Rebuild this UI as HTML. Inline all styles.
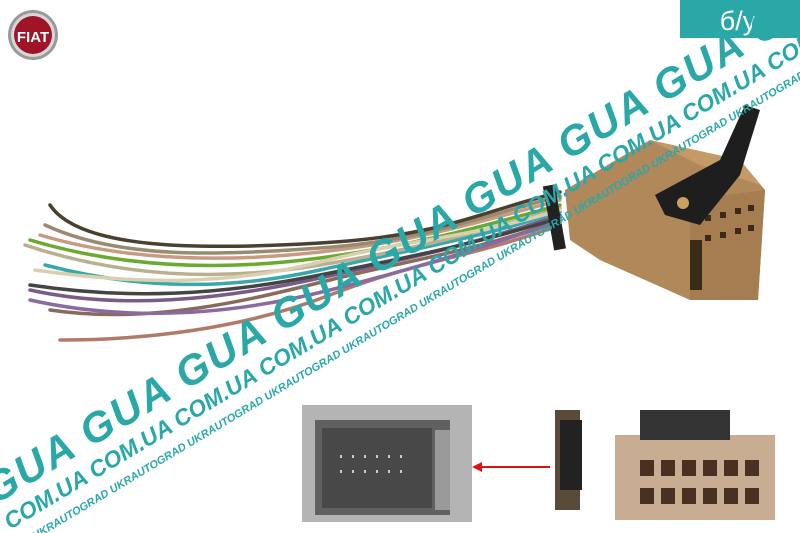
<!DOCTYPE html>
<html><head><meta charset="utf-8"><style>
html,body{margin:0;padding:0;background:#fff;width:800px;height:533px;overflow:hidden}
svg{display:block}
</style></head><body>
<svg width="800" height="533" viewBox="0 0 800 533" xmlns="http://www.w3.org/2000/svg" font-family="Liberation Sans, sans-serif">
<!-- Fiat logo -->
<circle cx="33" cy="35" r="25" fill="#9a9a9a"/>
<circle cx="33" cy="35" r="22" fill="#d8d8d8"/>
<circle cx="33" cy="35" r="19" fill="#a01428"/>
<text x="33" y="42" font-size="15" fill="#fff" text-anchor="middle" font-weight="bold" transform="scale(1,1)">FIAT</text>
<!-- badge -->
<rect x="680" y="0" width="120" height="38" fill="#2aa8a8"/>
<text x="738" y="30" font-size="27" fill="#fff" text-anchor="middle">б/у</text>
<!-- wires -->
<g fill="none" stroke-width="3.5" stroke-linecap="round">
<path d="M50 310 C150 325 250 300 330 280 S480 250 560 220" stroke="#8a6a5a"/>
<path d="M30 290 C120 310 220 300 320 278 S470 245 560 215" stroke="#7a5a8a"/>
<path d="M45 265 C140 290 230 290 320 270 S470 240 560 212" stroke="#3aa8a8"/>
<path d="M25 245 C130 280 230 280 320 265 S470 235 560 208" stroke="#b8b090"/>
<path d="M30 240 C130 270 230 270 320 258 S470 230 560 205" stroke="#6aaa30"/>
<path d="M40 235 C130 262 230 262 320 252 S470 225 560 200" stroke="#c89a80"/>
<path d="M35 270 C140 285 230 285 320 262 S470 238 560 210" stroke="#d8d0b0"/>
<path d="M45 225 C120 260 220 255 320 248 S470 220 560 196" stroke="#9a8a70"/>
<path d="M50 205 C80 250 200 250 320 243 S470 215 560 192" stroke="#4a4030"/>
<path d="M30 285 C130 300 220 295 320 275 S470 245 560 218" stroke="#444"/>
<path d="M60 340 C140 340 240 330 330 295 S480 255 560 225" stroke="#b07a6a"/>
<path d="M30 300 C120 320 220 318 330 290 S470 250 560 222" stroke="#8a6aa0"/>
</g>
<rect x="548" y="185" width="12" height="65" fill="#222" transform="rotate(-10 554 215)"/>
<!-- connector -->
<polygon points="565,190 650,140 740,160 765,190 758,300 690,300 600,260 570,240" fill="#b0885a"/>
<polygon points="650,140 700,165 760,185 740,160" fill="#c49a68"/>
<polygon points="690,200 765,190 758,300 690,300" fill="#a57d50"/>
<g fill="#3a2a1a">
<rect x="705" y="215" width="6" height="6"/><rect x="720" y="212" width="6" height="6"/><rect x="735" y="208" width="6" height="6"/><rect x="748" y="205" width="6" height="6"/>
<rect x="705" y="235" width="6" height="6"/><rect x="720" y="232" width="6" height="6"/><rect x="735" y="228" width="6" height="6"/><rect x="748" y="225" width="6" height="6"/>
<rect x="690" y="240" width="12" height="50"/>
</g>
<polygon points="655,195 720,160 745,105 760,110 740,175 700,225 665,215" fill="#1e1e1e"/>
<circle cx="683" cy="203" r="6" fill="#c8a060"/>
<!-- watermark -->
<g fill="#2aa8a8" font-weight="bold" font-style="italic">
<text transform="translate(-5,505) rotate(-31)" font-size="42" letter-spacing="2">GUA GUA GUA GUA GUA GUA GUA GUA GUA GUA GUA</text>
<text transform="translate(10,530) rotate(-31)" font-size="23">COM.UA COM.UA COM.UA COM.UA COM.UA COM.UA COM.UA COM.UA COM.UA COM.UA</text>
<text transform="translate(35,540) rotate(-31)" font-size="11">UKRAUTOGRAD UKRAUTOGRAD UKRAUTOGRAD UKRAUTOGRAD UKRAUTOGRAD UKRAUTOGRAD UKRAUTOGRAD UKRAUTOGRAD UKRAUTOGRAD UKRAUTOGRAD</text>
</g>
<!-- bottom gray image -->
<rect x="302" y="405" width="170" height="117" fill="#b4b4b4"/>
<rect x="315" y="420" width="135" height="95" fill="#606060"/>
<rect x="322" y="428" width="110" height="80" fill="#484848"/>
<g fill="#ccc">
<rect x="340" y="455" width="2" height="3"/><rect x="352" y="455" width="2" height="3"/><rect x="364" y="455" width="2" height="3"/><rect x="376" y="455" width="2" height="3"/><rect x="388" y="455" width="2" height="3"/><rect x="400" y="455" width="2" height="3"/>
<rect x="340" y="470" width="2" height="3"/><rect x="352" y="470" width="2" height="3"/><rect x="364" y="470" width="2" height="3"/><rect x="376" y="470" width="2" height="3"/><rect x="388" y="470" width="2" height="3"/><rect x="400" y="470" width="2" height="3"/>
</g>
<rect x="435" y="430" width="15" height="80" fill="#9a9a9a"/>
<!-- arrow -->
<line x1="550" y1="467" x2="480" y2="467" stroke="#e01010" stroke-width="2"/>
<polygon points="472,467 482,462 482,472" fill="#e01010"/>
<!-- bottom right connector -->
<rect x="555" y="410" width="25" height="100" fill="#5a4a3a"/>
<rect x="560" y="420" width="22" height="70" fill="#222"/>
<rect x="615" y="435" width="160" height="85" fill="#c8ad92"/>
<rect x="640" y="410" width="90" height="30" fill="#333"/>
<g fill="#4a3020">
<rect x="640" y="460" width="14" height="16"/><rect x="661" y="460" width="14" height="16"/><rect x="682" y="460" width="14" height="16"/><rect x="703" y="460" width="14" height="16"/><rect x="724" y="460" width="14" height="16"/><rect x="745" y="460" width="14" height="16"/>
<rect x="640" y="488" width="14" height="16"/><rect x="661" y="488" width="14" height="16"/><rect x="682" y="488" width="14" height="16"/><rect x="703" y="488" width="14" height="16"/><rect x="724" y="488" width="14" height="16"/><rect x="745" y="488" width="14" height="16"/>
</g>
</svg>
</body></html>
